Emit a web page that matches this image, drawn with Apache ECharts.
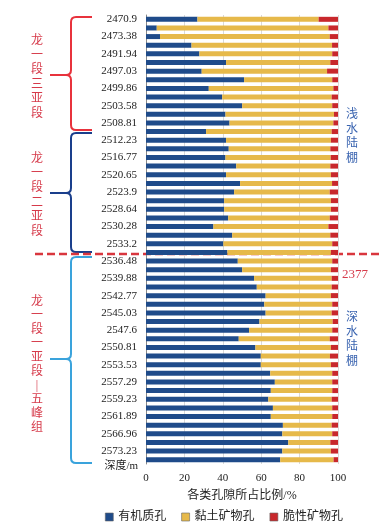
<!DOCTYPE html>
<html><head><meta charset="utf-8">
<script src="https://cdn.jsdelivr.net/npm/echarts@6/dist/echarts.min.js"></script>
<style>html,body{margin:0;padding:0;background:#fff}#c{width:392px;height:523px}</style>
</head><body><div id="c"></div>
<script>
// depth categories, top to bottom (unlabelled bars carry estimated depths)
const depths = [
 '2470.9','2472.1','2473.38','2482.5','2491.94','2494.5','2497.03','2498.4','2499.86','2501.7',
 '2503.58','2506.2','2508.81','2510.5','2512.23','2514.5','2516.77','2518.7','2520.65','2522.3',
 '2523.9','2526.3','2528.64','2529.5','2530.28','2531.7','2533.2','2534.8','2536.48','2538.2',
 '2539.88','2541.3','2542.77','2543.9','2545.03','2546.3','2547.6','2549.2','2550.81','2552.2',
 '2553.53','2555.4','2557.29','2558.3','2559.23','2560.6','2561.89','2564.4','2566.96','2570.1',
 '2573.23','2575.5'
];
const organic = [
 26.8,5.6,7.3,23.7,27.8,41.7,29.0,51.1,32.7,39.7,
 50.1,41.4,43.5,31.3,41.7,43.1,41.4,47.0,41.7,49.0,
 45.9,40.7,40.7,42.8,35.1,44.9,40.3,42.4,47.8,50.1,
 56.3,57.7,62.3,61.6,62.3,59.1,53.7,48.3,57.0,59.8,
 59.8,64.7,67.1,65.0,63.7,66.1,65.0,71.3,71.0,74.1,
 71.0,69.9
];
const brittle = [
 10.1,5.0,4.3,3.1,3.0,4.0,5.7,3.0,2.4,3.3,
 3.0,2.1,2.4,3.3,3.7,4.0,3.8,4.0,3.7,3.1,
 4.3,3.7,3.7,4.3,5.0,4.0,3.0,3.7,3.0,3.7,
 3.3,3.3,3.7,3.0,3.3,2.8,3.0,4.3,3.7,4.2,
 3.7,3.0,3.0,3.0,3.3,3.0,3.0,3.3,3.0,4.0,
 3.7,2.3
];
const clay = organic.map((v,i)=>+(100 - v - brittle[i]).toFixed(1));
const seriesNames = ['有机质孔','黏土矿物孔','脆性矿物孔'];

const FONT = '"Liberation Serif","Noto Sans CJK SC",serif';
const chart = echarts.init(document.getElementById('c'));

function brace(x, yTop, yTip, yBot, hookX, tipX, color){
  const r = 5, st = {stroke:color, lineWidth:2, fill:null};
  const L = (x1,y1,x2,y2)=>({type:'line', silent:true, shape:{x1,y1,x2,y2}, style:st});
  const Q = (x1,y1,cx,cy,x2,y2)=>({type:'bezierCurve', silent:true, shape:{x1,y1,cpx1:cx,cpy1:cy,x2,y2}, style:st});
  return {type:'group', silent:true, children:[
    L(hookX,yTop,x+r,yTop), Q(x+r,yTop,x,yTop,x,yTop+r), L(x,yTop+r,x,yTip-r),
    Q(x,yTip-r,x,yTip,x-r,yTip), L(x-r,yTip,tipX,yTip),
    Q(x-r,yTip,x,yTip,x,yTip+r), L(x,yTip+r,x,yBot-r),
    Q(x,yBot-r,x,yBot,x+r,yBot), L(x+r,yBot,hookX,yBot)
  ]};
}
function vtext(x, y, str, color, size, lh){
  return {type:'text', silent:true, x:x, y:y,
    style:{text:str.split('').join('\n'), fill:color, font:`${size}px ${FONT}`, lineHeight:lh, align:'center'}};
}

chart.setOption({
  animation:false,
  textStyle:{fontFamily:FONT},
  grid:{left:146, right:54, top:15, bottom:59, containLabel:false},
  legend:{
    data:seriesNames, left:100, top:506, itemWidth:8, itemHeight:8, itemGap:15,
    icon:'rect',
    itemStyle:{borderColor:'#666', borderWidth:0.6},
    textStyle:{fontFamily:FONT, fontSize:12, color:'#222'}
  },
  xAxis:{
    type:'value', min:0, max:100, interval:20,
    name:'各类孔隙所占比例/%', nameLocation:'middle', nameGap:26,
    nameTextStyle:{fontFamily:FONT, fontSize:12, color:'#222'},
    axisLine:{show:false}, axisTick:{show:false},
    axisLabel:{fontFamily:FONT, fontSize:11, color:'#222', margin:9},
    splitLine:{lineStyle:{color:'#d9d9d9', width:1}}
  },
  yAxis:{
    type:'category', data:depths, inverse:true,
    name:'深度/m', nameLocation:'end', nameGap:2,
    nameTextStyle:{fontFamily:FONT, fontSize:11, color:'#222', align:'right', verticalAlign:'middle', padding:[0,8,0,0]},
    axisLine:{lineStyle:{color:'#888'}},
    axisTick:{interval:1, length:4, lineStyle:{color:'#444'}},
    axisLabel:{interval:1, fontFamily:FONT, fontSize:11, color:'#222', margin:9}
  },
  series:[
    {name:seriesNames[0], type:'bar', stack:'t', data:organic, barWidth:5, itemStyle:{color:'#1f4b8a'}},
    {name:seriesNames[1], type:'bar', stack:'t', data:clay, barWidth:5, itemStyle:{color:'#e6b94a'}},
    {name:seriesNames[2], type:'bar', stack:'t', data:brittle, barWidth:5, itemStyle:{color:'#c8282c'}}
  ],
  graphic:[
    brace(71, 17, 75, 130, 92, 50, '#e8323c'),
    brace(71, 133, 193, 252, 92, 50, '#1a3f8c'),
    brace(71, 257, 359, 463, 92, 50, '#3aa3dc'),
    vtext(37, 34, '龙一段三亚段', '#d63a4a', 12, 14.5),
    vtext(37, 152, '龙一段二亚段', '#d63a4a', 12, 14.5),
    vtext(37, 295, '龙一段一亚段|五峰组', '#d63a4a', 12, 14),
    {type:'line', silent:true, shape:{x1:35, y1:254, x2:380, y2:254},
     style:{stroke:'#d9363e', lineWidth:2.5, lineDash:[8,4]}},
    vtext(352, 108, '浅水陆棚', '#3a64b0', 12, 14.5),
    {type:'text', silent:true, x:342, y:268, style:{text:'2377', fill:'#d63a4a', font:`13px ${FONT}`}},
    vtext(352, 311, '深水陆棚', '#3a64b0', 12, 14.5)
  ]
});
</script></body></html>
